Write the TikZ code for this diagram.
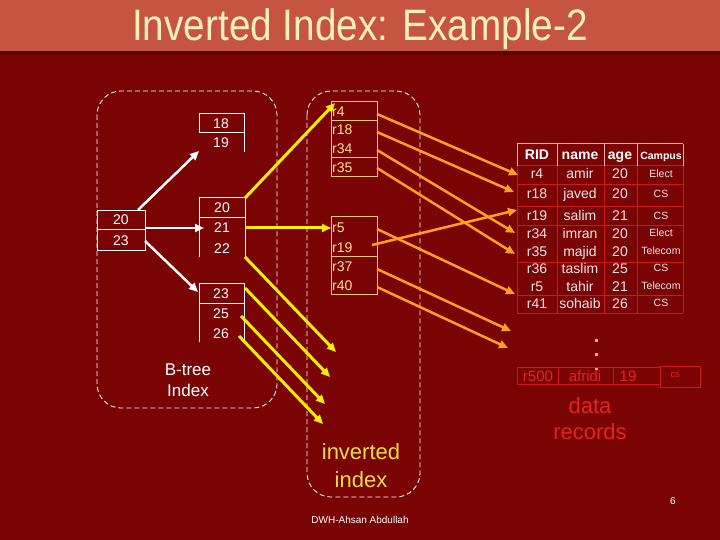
\documentclass[tikz,border=0pt]{standalone}
\usepackage{fontspec}
\setmainfont{Liberation Sans}
\usetikzlibrary{arrows.meta}
\definecolor{bgred}{RGB}{122,4,4}
\definecolor{titlebar}{RGB}{197,84,64}
\definecolor{titledark}{RGB}{100,0,0}
\definecolor{titletext}{RGB}{255,238,190}
\definecolor{yarrow}{RGB}{255,238,0}
\definecolor{oarrow}{RGB}{255,160,30}
\definecolor{invbox}{RGB}{240,200,110}
\definecolor{invtext}{RGB}{255,225,140}
\definecolor{tline}{RGB}{205,25,25}
\definecolor{thead}{RGB}{225,180,180}
\definecolor{rowtext}{RGB}{240,228,228}
\definecolor{redtext}{RGB}{230,35,35}
\definecolor{idxtext}{RGB}{240,220,70}
\definecolor{dotcol}{RGB}{255,170,120}
\tikzset{
  fixh/.style={inner sep=0pt, text height=#1, text depth=0pt},
  numcell/.style={fixh=10pt, text=white, font=\fontsize{14}{14}\selectfont},
  invcell/.style={fixh=10pt, anchor=west, text=invtext, font=\fontsize{14}{14}\selectfont},
  wline/.style={draw=white, line width=1pt},
  iline/.style={draw=invbox, line width=1pt},
  warrow/.style={white, line width=2.5pt, -{Triangle[length=9pt,width=8pt]}},
  yarr/.style={yarrow, line width=3pt, -{Triangle[length=9pt,width=8pt]}},
  oarr/.style={oarrow, line width=2.5pt, -{Triangle[length=9pt,width=8pt]}},
  dashbox/.style={draw=white, line width=0.8pt, dash pattern=on 5pt off 3pt, rounded corners=24pt},
  hdr/.style={fixh=10pt, text=white, font=\bfseries\fontsize{14}{14}\selectfont},
  tcell/.style={fixh=10pt, text=rowtext, font=\fontsize{14}{14}\selectfont},
  ccell/.style={fixh=7.5pt, text=rowtext, font=\fontsize{10.5}{10.5}\selectfont},
  redcell/.style={fixh=10.7pt, text=redtext, font=\fontsize{15}{15}\selectfont},
  bigtext/.style={fixh=15.75pt, font=\fontsize{22}{22}\selectfont},
}
\begin{document}
\begin{tikzpicture}[x=1pt,y=-1pt]
\useasboundingbox (0,0) rectangle (720,540);
\fill[bgred] (0,0) rectangle (720,540);
\fill[titlebar] (0,0) rectangle (720,51);
\fill[titledark] (0,51) rectangle (720,55);
\node[inner sep=0pt, text=titletext, font=\fontsize{44}{44}\selectfont] (title) at (360,29) {\scalebox{0.88}[1]{Inverted Index: Example-2}};

% dashed group boxes
\draw[dashbox] (97,91) rectangle (277,408);
\draw[dashbox] (307,91) rectangle (420,497);

% B-tree root
\draw[wline] (97,211) rectangle (145,250);
\draw[wline] (97,230) -- (145,230);
\node[numcell] (root20) at (121,220) {20};
\node[numcell] (root23) at (121,240) {23};
\coordinate (rootA) at (138,210);
\coordinate (rootB) at (145,228);
\coordinate (rootC) at (145,241);

% leaf 1
\draw[wline] (199,133) -- (199,114) -- (244,114) -- (244,152);
\draw[wline] (199,133) -- (244,133);
\node[numcell] (l18) at (221,124) {18};
\node[numcell] (l19) at (221,143) {19};
\coordinate (leafA) at (199,151);

% leaf 2
\draw[wline] (199,257) -- (199,198) -- (245,198) -- (245,257);
\draw[wline] (199,218) -- (245,218);
\node[numcell] (l20) at (222,208) {20};
\node[numcell] (l21) at (222,228) {21};
\node[numcell] (l22) at (222,248) {22};
\coordinate (leafB) at (204,228);
\coordinate (leafBtop) at (245,198);
\coordinate (leafBmid) at (245,228);
\coordinate (leafBbot) at (245,257);

% leaf 3
\draw[wline] (199,342) -- (199,283) -- (244,283) -- (244,342);
\draw[wline] (199,303) -- (244,303);
\node[numcell] (l23) at (221,293) {23};
\node[numcell] (l25) at (221,313) {25};
\node[numcell] (l26) at (221,333) {26};
\coordinate (leafC) at (198,292);
\coordinate (leafC23) at (245,288);
\coordinate (leafC25) at (241,316);
\coordinate (leafC26) at (239,336);

% white arrows
\draw[warrow] (rootA) -- (leafA);
\draw[warrow] (rootB) -- (leafB);
\draw[warrow] (rootC) -- (leafC);

% inverted index lists
\draw[iline] (331,102) rectangle (377,177);
\draw[iline] (331,121) -- (377,121);
\draw[iline] (331,158) -- (377,158);
\node[invcell] (ir4) at (332,112) {r4};
\node[invcell] (ir18) at (332,130) {r18};
\node[invcell] (ir34) at (332,149) {r34};
\node[invcell] (ir35) at (332,168) {r35};
\draw[iline] (331,217) rectangle (377,294);
\draw[iline] (331,256) -- (377,256);
\node[invcell] (ir5) at (332,228) {r5};
\node[invcell] (ir19) at (332,247) {r19};
\node[invcell] (ir37) at (332,266) {r37};
\node[invcell] (ir40) at (332,285) {r40};

\coordinate (invA) at (335,103);
\coordinate (invB) at (331,228);
\coordinate (freeA) at (336,352);
\coordinate (freeB) at (330,377);
\coordinate (freeC) at (325,404);
\coordinate (freeD) at (323,424);

% yellow arrows
\draw[yarr] (leafBtop) -- (invA);
\draw[yarr] (leafBmid) -- (invB);
\draw[yarr] (leafBbot) -- (freeA);
\draw[yarr] (leafC23) -- (freeB);
\draw[yarr] (leafC25) -- (freeC);
\draw[yarr] (leafC26) -- (freeD);

% data table
\foreach \yy in {166,185,207,226,262,295,313} \draw[tline, line width=1pt] (517,\yy) -- (683,\yy);
\foreach \xx in {517,557,604,637,683} \draw[tline, line width=1pt] (\xx,166) -- (\xx,313);
\draw[thead, line width=1pt] (517,144) -- (683,144);
\foreach \xx in {517,557,604,637,683} \draw[thead, line width=1pt] (\xx,144) -- (\xx,166);
\node[hdr] (hrid) at (537,155) {RID};
\node[hdr] (hname) at (580,155) {name};
\node[hdr] (hage) at (620,155) {age};
\node[hdr, fixh=7.5pt, font=\bfseries\fontsize{10.5}{10.5}\selectfont] (hcampus) at (661,156) {Campus};
\foreach \i/\yy/\rid/\nm/\ag/\cp in {1/174/r4/amir/20/Elect, 2/194/r18/javed/20/CS, 3/216/r19/salim/21/CS, 4/233/r34/imran/20/Elect, 5/251/r35/majid/20/Telecom, 6/268/r36/taslim/25/CS, 7/286/r5/tahir/21/Telecom, 8/303/r41/sohaib/26/CS}{
  \node[tcell] (row\i-rid) at (537,\yy) {\rid};
  \node[tcell] (row\i-name) at (580,\yy) {\nm};
  \node[tcell] (row\i-age) at (620,\yy) {\ag};
  \node[ccell] (row\i-campus) at (661,\yy) {\cp};
}
\coordinate (tr4) at (518,175);
\coordinate (tr18) at (514,192);
\coordinate (tr19) at (517,210);
\coordinate (tr34) at (515,233);
\coordinate (tr35) at (515,254);
\coordinate (tr5) at (515,294);
\coordinate (tr37) at (511,331);
\coordinate (tr40) at (508,348);

% orange arrows
\draw[oarr] (377,114) coordinate (s4) -- (tr4);
\draw[oarr] (377,132) coordinate (s18) -- (tr18);
\draw[oarr] (377,150) coordinate (s34) -- (tr34);
\draw[oarr] (377,168) coordinate (s35) -- (tr35);
\draw[oarr] (372,245) coordinate (s19) -- (tr19);
\draw[oarr] (377,229) coordinate (s5) -- (tr5);
\draw[oarr] (377,269) coordinate (s37) -- (tr37);
\draw[oarr] (377,287) coordinate (s40) -- (tr40);

% dots
\foreach \yy in {340,354,368} \fill[dotcol] (594.5,\yy-1.5) rectangle (597.5,\yy+1.5);

% r500 row
\draw[tline, line width=1pt] (517,367) rectangle (660,384);
\draw[tline, line width=1pt] (558,367) -- (558,384);
\draw[tline, line width=1pt] (613,367) -- (613,384);
\draw[tline, line width=1pt] (660,366) rectangle (700,387);
\node[redcell] (x500) at (538,376) {r500};
\node[redcell] (xafridi) at (585,376) {afridi};
\node[redcell] (x19) at (628,376) {19};
\node[redcell, fixh=6.4pt, font=\fontsize{9}{9}\selectfont] (xcs) at (675,374) {cs};

\node[bigtext, text=redtext] (data1) at (590,406) {data};
\node[bigtext, text=redtext] (data2) at (590,432) {records};
\node[bigtext, text=idxtext] (inv1) at (361,452) {inverted};
\node[bigtext, text=idxtext] (inv2) at (361,480) {index};
\node[fixh=12.2pt, text=white, font=\fontsize{17}{17}\selectfont] (bt1) at (188,369) {B-tree};
\node[fixh=12.2pt, text=white, font=\fontsize{17}{17}\selectfont] (bt2) at (188,390) {Index};
\node[fixh=7.2pt, text=white, font=\fontsize{10}{10}\selectfont] (author) at (360,520) {DWH-Ahsan Abdullah};
\node[fixh=7.2pt, text=white, font=\fontsize{10}{10}\selectfont] (pagenum) at (673,501) {6};
\end{tikzpicture}
\end{document}
